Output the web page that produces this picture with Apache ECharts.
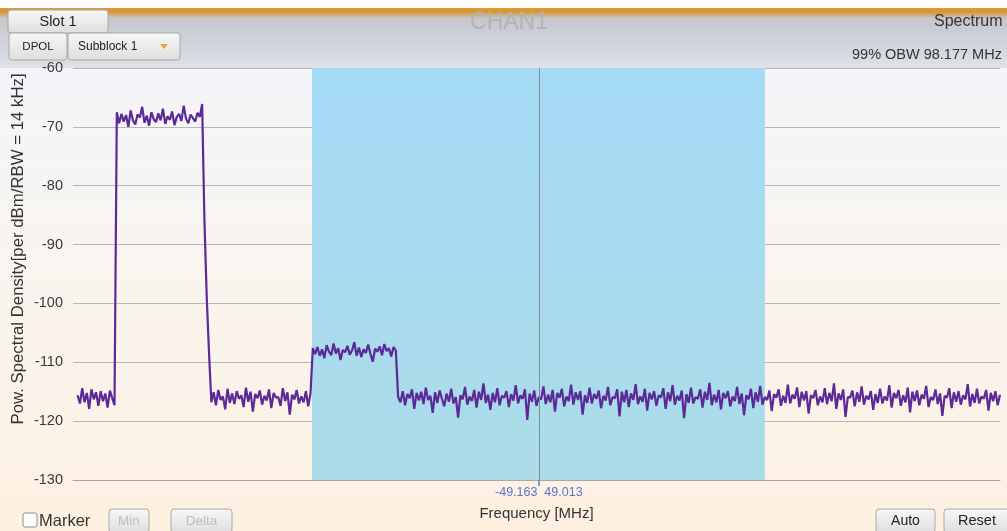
<!DOCTYPE html>
<html>
<head>
<meta charset="utf-8">
<script src="https://cdn.jsdelivr.net/npm/echarts@6/dist/echarts.min.js"></script>
<style>
html,body{margin:0;padding:0;background:#fff;}
#chart{width:1007px;height:531px;}
</style>
</head>
<body>
<div id="chart"></div>
<script>
// ---------- DATA ----------
const freqStart = -100;   // MHz, first trace sample
const freqStep = 0.5;     // MHz between samples
const yMin = -130, yMax = -60, yStep = 10;
const xMin = -101, xMax = 100;
const obwStart = -49.163; // MHz (marker 1)
const obwEnd = 49.013;    // MHz (marker 2)
const markerLabels = ['-49.163', '49.013'];
const obwText = '99% OBW 98.177 MHz';
const yAxisTitle = 'Pow. Spectral Density[per dBm/RBW = 14 kHz]';

// trace segments (dBm), in frequency order
const floorLeft = [-115.6,-117.0,-114.4,-116.8,-115.2,-117.9,-114.6,-116.3,-115.1,-117.4,-114.9,-116.6,-115.3,-117.7,-114.8,-116.1,-117.3];
const rise1 = [-67.5];
const carrier1 = [-69.4,-67.8,-69.1,-68.0,-70.0,-67.2,-68.9,-69.6,-67.9,-68.4,
  -66.6,-69.3,-68.1,-69.8,-67.5,-68.7,-69.2,-67.7,-68.9,-66.9,
  -69.5,-68.2,-68.8,-67.4,-69.7,-68.3,-67.8,-69.0,-66.4,-68.6,
  -69.4,-67.9,-68.5,-69.1,-67.6,-68.3,-66.1];
const fall1 = [-86.0,-99.0,-108.5,-116.8];
const floorMid = [-115.1,-117.3,-114.7,-116.4,-115.8,-118.0,-114.5,-116.9,-115.3,-117.1,
  -114.9,-116.2,-115.6,-117.6,-114.3,-116.7,-115.0,-118.4,-115.4,-116.1,
  -114.8,-117.2,-115.7,-116.5,-114.6,-117.8,-115.2,-116.0,-115.9,-117.4,
  -114.4,-116.6,-115.1,-118.9,-115.5,-116.3,-114.7,-117.0,-115.8,-116.8,
  -114.9,-117.5,-115.3];
const rise2 = [-107.6];
const carrier2 = [-108.6,-107.4,-108.9,-107.8,-109.3,-107.1,-108.2,-108.8,-106.8,-108.5,
  -107.6,-109.6,-107.9,-108.3,-107.2,-108.7,-108.0,-106.6,-108.9,-107.5,
  -109.1,-107.8,-108.4,-107.0,-108.6,-109.9,-107.7,-108.2,-107.3,-108.8,
  -106.9,-108.1,-107.6,-109.0,-107.4,-108.0];
const fall2 = [-115.9];
const floorRight = [
  -116.8,-114.9,-117.3,-115.4,-116.1,-114.6,-117.9,-115.2,-116.5,-115.0,
  -117.1,-114.3,-116.4,-115.7,-118.6,-115.1,-116.9,-114.8,-116.2,-117.5,
  -115.3,-116.7,-114.5,-117.0,-115.9,-119.4,-115.6,-116.3,-114.2,-117.2,
  -115.8,-116.6,-114.7,-117.7,-115.0,-116.4,-113.6,-116.9,-115.5,-118.1,
  -115.2,-116.8,-114.4,-117.3,-115.7,-116.0,-114.9,-117.6,-115.4,-116.5,
  -113.9,-117.0,-115.6,-116.2,-114.6,-119.8,-115.3,-116.7,-114.8,-117.4,
  -115.9,-116.3,-114.1,-117.1,-115.5,-116.8,-114.7,-118.4,-115.2,-116.0,
  -114.5,-117.5,-115.8,-116.6,-113.8,-117.2,-115.1,-116.4,-114.9,-118.9,
  -115.6,-116.9,-114.3,-117.0,-115.4,-116.2,-114.8,-117.8,-115.7,-116.5,
  -114.2,-117.3,-115.9,-116.1,-114.6,-119.2,-115.0,-116.8,-114.7,-117.6,
  -115.3,-116.4,-113.7,-117.1,-115.8,-116.7,-114.5,-118.2,-115.2,-116.3,
  -114.9,-117.4,-115.6,-116.0,-114.4,-117.9,-115.1,-116.6,-113.9,-117.2,
  -115.7,-116.5,-114.8,-119.5,-115.4,-116.9,-114.3,-117.0,-115.9,-116.2,
  -114.6,-117.7,-115.0,-116.4,-113.5,-117.3,-115.5,-116.8,-114.7,-118.0,
  -115.2,-116.1,-114.9,-117.5,-115.8,-116.6,-114.2,-117.1,-115.3,-119.0,
  -115.6,-116.3,-114.5,-117.8,-115.1,-116.7,-114.0,-117.2,-115.9,-116.4,
  -114.8,-118.3,-115.4,-116.0,-114.6,-117.4,-115.7,-116.9,-113.8,-117.0,
  -115.5,-116.2,-114.3,-117.6,-115.0,-116.5,-114.9,-118.7,-115.6,-116.1,
  -114.7,-117.3,-115.8,-116.8,-114.4,-117.1,-115.2,-116.6,-113.6,-117.9,
  -115.3,-116.4,-114.6,-119.3,-115.9,-116.0,-114.8,-117.5,-115.1,-116.7,
  -114.1,-117.2,-115.7,-116.3,-114.9,-118.1,-115.4,-116.9,-114.5,-117.0,
  -115.8,-116.5,-113.9,-117.7,-115.2,-116.1,-114.7,-117.4,-115.6,-116.8,
  -114.3,-118.5,-115.0,-116.6,-114.8,-117.3,-115.5,-116.2,-114.0,-117.6,
  -115.9,-116.4,-114.6,-117.1,-115.3,-119.1,-115.7,-116.0,-114.4,-117.8,
  -115.1,-116.7,-114.9,-117.2,-115.6,-116.3,-113.7,-117.5,-115.4,-116.9,
  -114.5,-117.0,-115.8,-116.2,-114.7,-118.2,-115.2,-116.6,-114.9,-117.3,
  -115.5];

const powerDbm = [].concat(floorLeft, rise1, carrier1, fall1, floorMid, rise2, carrier2, fall2, floorRight);
const traceData = powerDbm.map((v, i) => [freqStart + i * freqStep, v]);

// ---------- STYLE HELPERS ----------
const FONT = '"Liberation Sans", Arial, sans-serif';
function lin(stops) {
  return { type: 'linear', x: 0, y: 0, x2: 0, y2: 1,
    colorStops: stops.map(s => ({ offset: s[0], color: s[1] })) };
}
function button(x, y, w, h, label, fs, color, tx) {
  return {
    type: 'group', z: 10,
    children: [
      { type: 'rect', shape: { x: x, y: y, width: w, height: h, r: 3 },
        style: { fill: lin([[0, '#f7f7f7'], [1, '#dedede']]), stroke: '#a8a8a8', lineWidth: 1 } },
      { type: 'text', style: { text: label, x: tx !== undefined ? tx : x + w / 2, y: y + h / 2,
        textAlign: tx !== undefined ? 'left' : 'center', textVerticalAlign: 'middle',
        align: tx !== undefined ? 'left' : 'center', verticalAlign: 'middle',
        fill: color, fontSize: fs, fontFamily: FONT } }
    ]
  };
}

const chart = echarts.init(document.getElementById('chart'), null, { renderer: 'canvas' });

const graphics = [
  // page backgrounds
  { type: 'rect', z: -10, shape: { x: 0, y: 68, width: 1007, height: 463 },
    style: { fill: lin([[0, '#f4f5fa'], [0.35, '#f8f5f1'], [0.85, '#fcf2e5'], [1, '#fdf0e0']]) } },
  { type: 'rect', z: -10, shape: { x: 0, y: 0, width: 1007, height: 68 },
    style: { fill: lin([[0, '#ffffff'], [0.11, '#ffffff'], [0.12, '#e09a35'], [0.17, '#d8962f'], [0.27, '#c6c7cd'], [0.6, '#d0d2da'], [1, '#dfe1e8']]) } },
  // header texts
  { type: 'text', z: 5, style: { text: 'CHAN1', x: 509, y: 23, textAlign: 'center', textVerticalAlign: 'middle',
      align: 'center', verticalAlign: 'middle', fill: '#b3b4ba', fontSize: 23, fontFamily: FONT } },
  { type: 'text', z: 5, style: { text: 'Spectrum', x: 934, y: 22, textVerticalAlign: 'middle', verticalAlign: 'middle',
      fill: '#333', fontSize: 16, fontFamily: FONT } },
  { type: 'text', z: 5, style: { text: obwText, x: 852, y: 55, textVerticalAlign: 'middle', verticalAlign: 'middle',
      fill: '#333', fontSize: 14.5, fontFamily: FONT } },
  // y-axis title (placed like the reference, off-centre)
  { type: 'text', z: 5, x: 18, y: 249, rotation: Math.PI / 2,
    style: { text: yAxisTitle, x: 0, y: 0, textAlign: 'center', textVerticalAlign: 'middle',
      align: 'center', verticalAlign: 'middle', fill: '#333', fontSize: 16.8, fontFamily: FONT } },
  // header buttons
  button(8, 10, 100, 23, 'Slot 1', 14.5, '#222'),
  button(9, 33, 58, 27, 'DPOL', 11.5, '#222'),
  button(68, 33, 112, 27, 'Subblock 1', 12, '#222', 78),
  { type: 'polygon', z: 11, shape: { points: [[160, 44], [168, 44], [164, 49]] }, style: { fill: '#f0a040' } },
  // bottom controls
  { type: 'rect', z: 10, shape: { x: 23, y: 513, width: 14, height: 14, r: 2 },
    style: { fill: '#ffffff', stroke: '#8a8a8a', lineWidth: 1 } },
  { type: 'text', z: 10, style: { text: 'Marker', x: 39, y: 521, textVerticalAlign: 'middle', verticalAlign: 'middle',
      fill: '#333', fontSize: 16.5, fontFamily: FONT } },
  button(109, 509, 40, 24, 'Min', 13.5, '#bdbdbd'),
  button(171, 509, 61, 24, 'Delta', 13.5, '#bdbdbd'),
  button(876, 509, 59, 24, 'Auto', 14, '#222'),
  button(944, 509, 66, 24, 'Reset', 14.5, '#222')
];

const option = {
  animation: false,
  backgroundColor: 'transparent',
  graphic: graphics,
  grid: { left: 73, right: 7, top: 68, bottom: 51, containLabel: false, outerBoundsMode: 'none' },
  xAxis: {
    type: 'value', min: xMin, max: xMax,
    name: 'Frequency [MHz]', nameLocation: 'middle', nameGap: 26,
    nameTextStyle: { fontSize: 15, color: '#333', fontFamily: FONT },
    axisLine: { show: true, onZero: false, lineStyle: { color: '#a6a6a6', width: 1 } },
    splitLine: { show: false },
    axisTick: { show: true, customValues: [0], length: 6, lineStyle: { color: '#3a8ee6', width: 1.5 } },
    axisLabel: { show: true, customValues: [0], margin: 6, color: '#5b72d2', fontSize: 12.5, fontFamily: FONT,
      formatter: function () { return markerLabels.join('  '); } }
  },
  yAxis: {
    type: 'value', min: yMin, max: yMax, interval: yStep,
    axisLine: { show: true, lineStyle: { color: '#a6a6a6', width: 1 } },
    axisTick: { show: true, length: 6, lineStyle: { color: '#a6a6a6' } },
    axisLabel: { margin: 10, fontSize: 14.5, color: '#3a3a3a', fontFamily: FONT },
    splitLine: { show: true, lineStyle: { color: '#b7b7b7', width: 1 } }
  },
  series: [
    {
      type: 'line', data: [], z: -1, silent: true,
      markArea: {
        silent: true,
        itemStyle: { color: lin([[0, '#a5daf6'], [1, '#acdce8']]) },
        data: [[{ xAxis: obwStart }, { xAxis: obwEnd }]]
      }
    },
    {
      type: 'line', data: traceData, showSymbol: false, symbol: 'none', sampling: null,
      lineStyle: { color: '#5c2a98', width: 2.2 },
      markLine: {
        silent: true, symbol: 'none', label: { show: false },
        lineStyle: { color: '#8a8a8a', width: 1, type: 'solid' },
        data: [{ xAxis: 0 }]
      },
      z: 3
    }
  ]
};
chart.setOption(option);
</script>
</body>
</html>
